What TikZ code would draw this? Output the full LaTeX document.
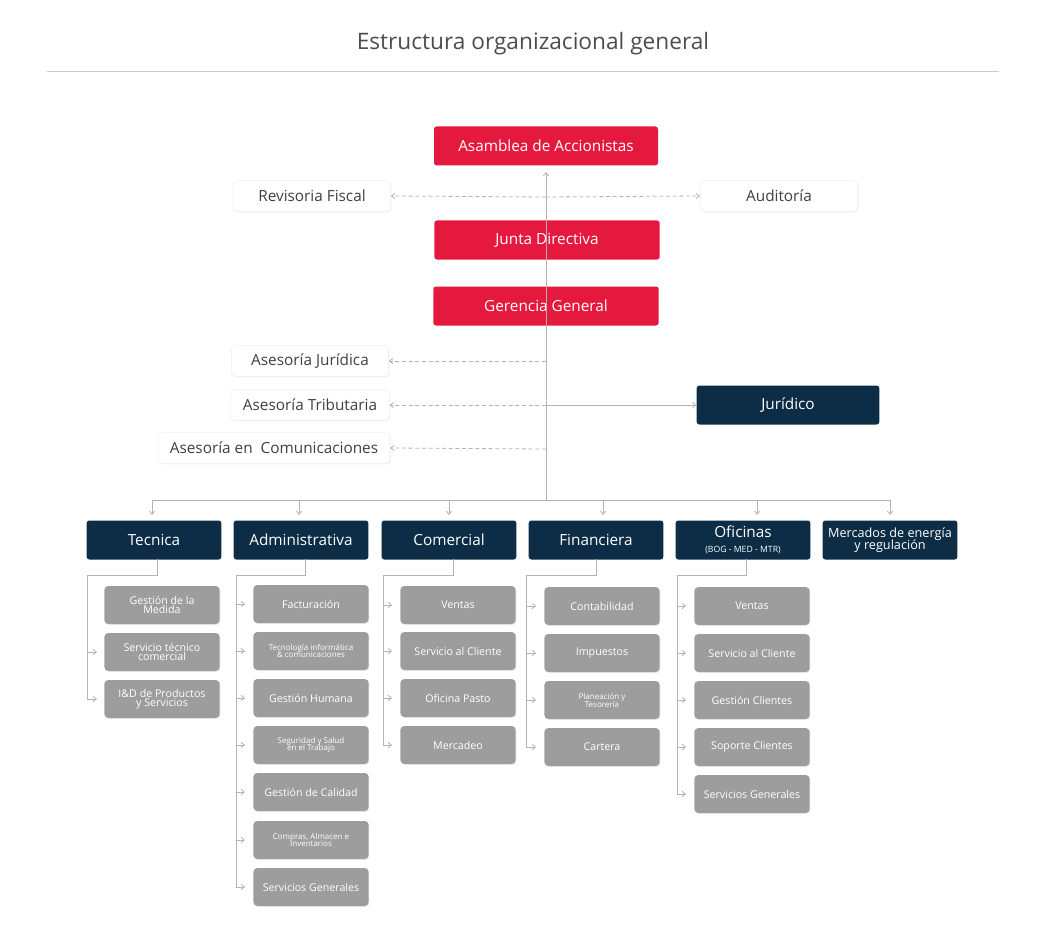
\documentclass[tikz,border=0pt]{standalone}
\usepackage{fontspec}
\setmainfont{Open Sans}
\usetikzlibrary{arrows.meta,shadows}
\definecolor{rojo}{HTML}{E5193E}
\definecolor{navy}{HTML}{0C2D45}
\definecolor{gbox}{HTML}{9D9D9D}
\definecolor{ln}{HTML}{B3B3B3}
\begin{document}
\begin{tikzpicture}[x=0.75pt,y=-0.75pt,
 box/.style={rounded corners=2pt,minimum height=29.25pt,text centered,inner sep=0pt},
 redbox/.style={box,fill=rojo,text=white,font=\fontsize{11.5}{12}\selectfont},
 wbox/.style={rounded corners=3pt,fill=white,draw=black!6,drop shadow={opacity=0.12,shadow xshift=0.6pt,shadow yshift=-0.8pt},minimum height=23pt,text=black!75,font=\fontsize{11.5}{12}\selectfont,inner sep=0pt},
 dept/.style={box,fill=navy,text=white,font=\fontsize{11.5}{12}\selectfont,minimum width=101pt,align=center},
 sub/.style={rounded corners=3pt,fill=gbox,text=white,minimum width=86.5pt,minimum height=28.5pt,align=center,inner sep=0pt,font=\fontsize{8}{8}\selectfont,drop shadow={opacity=0.15,shadow xshift=0.6pt,shadow yshift=-0.8pt}},
 tiny/.style={font=\fontsize{6}{6}\selectfont},
 con/.style={draw=ln,line width=0.6pt},
 arr/.style={con,-{Straight Barb[length=2.5pt,width=4pt]}},
 darr/.style={arr,dashed,dash pattern=on 3pt off 2pt}]
\useasboundingbox (0,0) rectangle (1052,952);
\node[text=black!70,font=\fontsize{17}{18}\selectfont] (title) at (533,44) {Estructura organizacional general};
\draw[con,draw=black!20] (47,71) -- (999,71);
\node[redbox,minimum width=168pt] (asam) at (546,146) {Asamblea de Accionistas};
\node[redbox,minimum width=169pt] (junta) at (547,240) {Junta Directiva};
\node[redbox,minimum width=169pt] (ger) at (546,306) {Gerencia General};
\node[wbox,minimum width=118pt] (rev) at (312,196) {Revisoria Fiscal};
\node[wbox,minimum width=118pt] (aud) at (779,196) {Auditoría};
\node[wbox,minimum width=118pt] (jur) at (310,361) {Asesoría Jurídica};
\node[wbox,minimum width=119pt] (tri) at (310,405) {Asesoría Tributaria};
\node[wbox,minimum width=174pt] (com) at (274,448) {Asesoría en~ Comunicaciones};
\node[box,fill=navy,text=white,minimum width=137pt,font=\fontsize{11.5}{12}\selectfont] (juri) at (788,405) {Jurídico};
\coordinate (top) at (546,172);
\coordinate (bus) at (546,500);
\draw[arr] (bus) -- (top);
\coordinate (m1) at (546,197);
\draw[darr] (m1) -- (rev.east);
\draw[darr] (m1) -- (aud.west);
\draw[darr] (546,361) -- (jur.east);
\draw[darr] (546,405) -- (tri.east);
\draw[arr] (546,405) -- (juri.west);
\draw[darr] (546,449) -- (com.east);
\draw[con] (152,500) -- (890,500);
\node[dept] (tec) at (154,540) {Tecnica};
\node[dept] (adm) at (301,540) {Administrativa};
\node[dept] (cme) at (449,540) {Comercial};
\node[dept] (fin) at (596,540) {Financiera};
\node[dept] (ofi) at (743,540) {\raisebox{3pt}{Oficinas}\\[-4pt]{\fontsize{6.5}{7}\selectfont(BOG - MED - MTR)}};
\node[dept,font=\fontsize{9.5}{9}\selectfont] (mer) at (890,540) {Mercados de energía\\[-2pt]y regulación};
\foreach \x/\n in {152/tec,299/adm,449/cme,603/fin,757/ofi,890/mer}
  \draw[arr] (\x,500) -- (\x,515);
% Tecnica
\node[sub] (t1) at (162,605) {Gestión de la\\[-1pt]Medida};
\node[sub] (t2) at (162,652) {Servicio técnico\\[-1pt]comercial};
\node[sub] (t3) at (162,699) {I\&D de Productos\\[-1pt]y Servicios};
\draw[con] (157,559) -- (157,575) -- (87,575) -- (87,699);
\draw[arr] (87,652) -- (97,652);
\draw[arr] (87,699) -- (97,699);
% Administrativa
\node[sub] (a1) at (311,604) {Facturación};
\node[sub,tiny] (a2) at (311,651) {Tecnología informática\\[-1pt]\& comunicaciones};
\node[sub] (a3) at (311,698) {Gestión Humana};
\node[sub,tiny] (a4) at (311,745) {Seguridad y Salud\\[-1pt]en el Trabajo};
\node[sub] (a5) at (311,792) {Gestión de Calidad};
\node[sub,tiny] (a6) at (311,840) {Compras, Almacen e\\[-1pt]Inventarios};
\node[sub] (a7) at (311,887) {Servicios Generales};
\draw[con] (305,559) -- (305,575) -- (236,575) -- (236,887);
\foreach \n in {a1,a2,a3,a4,a5,a6,a7} \draw[arr] (236,0|-\n.west) -- ([xshift=-6pt]\n.west);
% Comercial
\node[sub] (c1) at (458,605) {Ventas};
\node[sub] (c2) at (458,651) {Servicio al Cliente};
\node[sub] (c3) at (458,698) {Oficina Pasto};
\node[sub] (c4) at (458,745) {Mercadeo};
\draw[con] (453,559) -- (453,575) -- (383,575) -- (383,745);
\foreach \n in {c1,c2,c3,c4} \draw[arr] (383,0|-\n.west) -- ([xshift=-6pt]\n.west);
% Financiera
\node[sub] (f1) at (602,606) {Contabilidad};
\node[sub] (f2) at (602,653) {Impuestos};
\node[sub,tiny] (f3) at (602,700) {Planeación y\\[-1pt]Tesorería};
\node[sub] (f4) at (602,747) {Cartera};
\draw[con] (596,559) -- (596,575) -- (526,575) -- (526,747);
\foreach \n in {f1,f2,f3,f4} \draw[arr] (526,0|-\n.west) -- ([xshift=-6pt]\n.west);
% Oficinas
\node[sub] (o1) at (752,606) {Ventas};
\node[sub] (o2) at (752,653) {Servicio al Cliente};
\node[sub] (o3) at (752,700) {Gestión Clientes};
\node[sub] (o4) at (752,747) {Soporte Clientes};
\node[sub] (o5) at (752,794) {Servicios Generales};
\draw[con] (746,559) -- (746,575) -- (677,575) -- (677,794);
\foreach \n in {o1,o2,o3,o4,o5} \draw[arr] (677,0|-\n.west) -- ([xshift=-6pt]\n.west);
\end{tikzpicture}
\end{document}
